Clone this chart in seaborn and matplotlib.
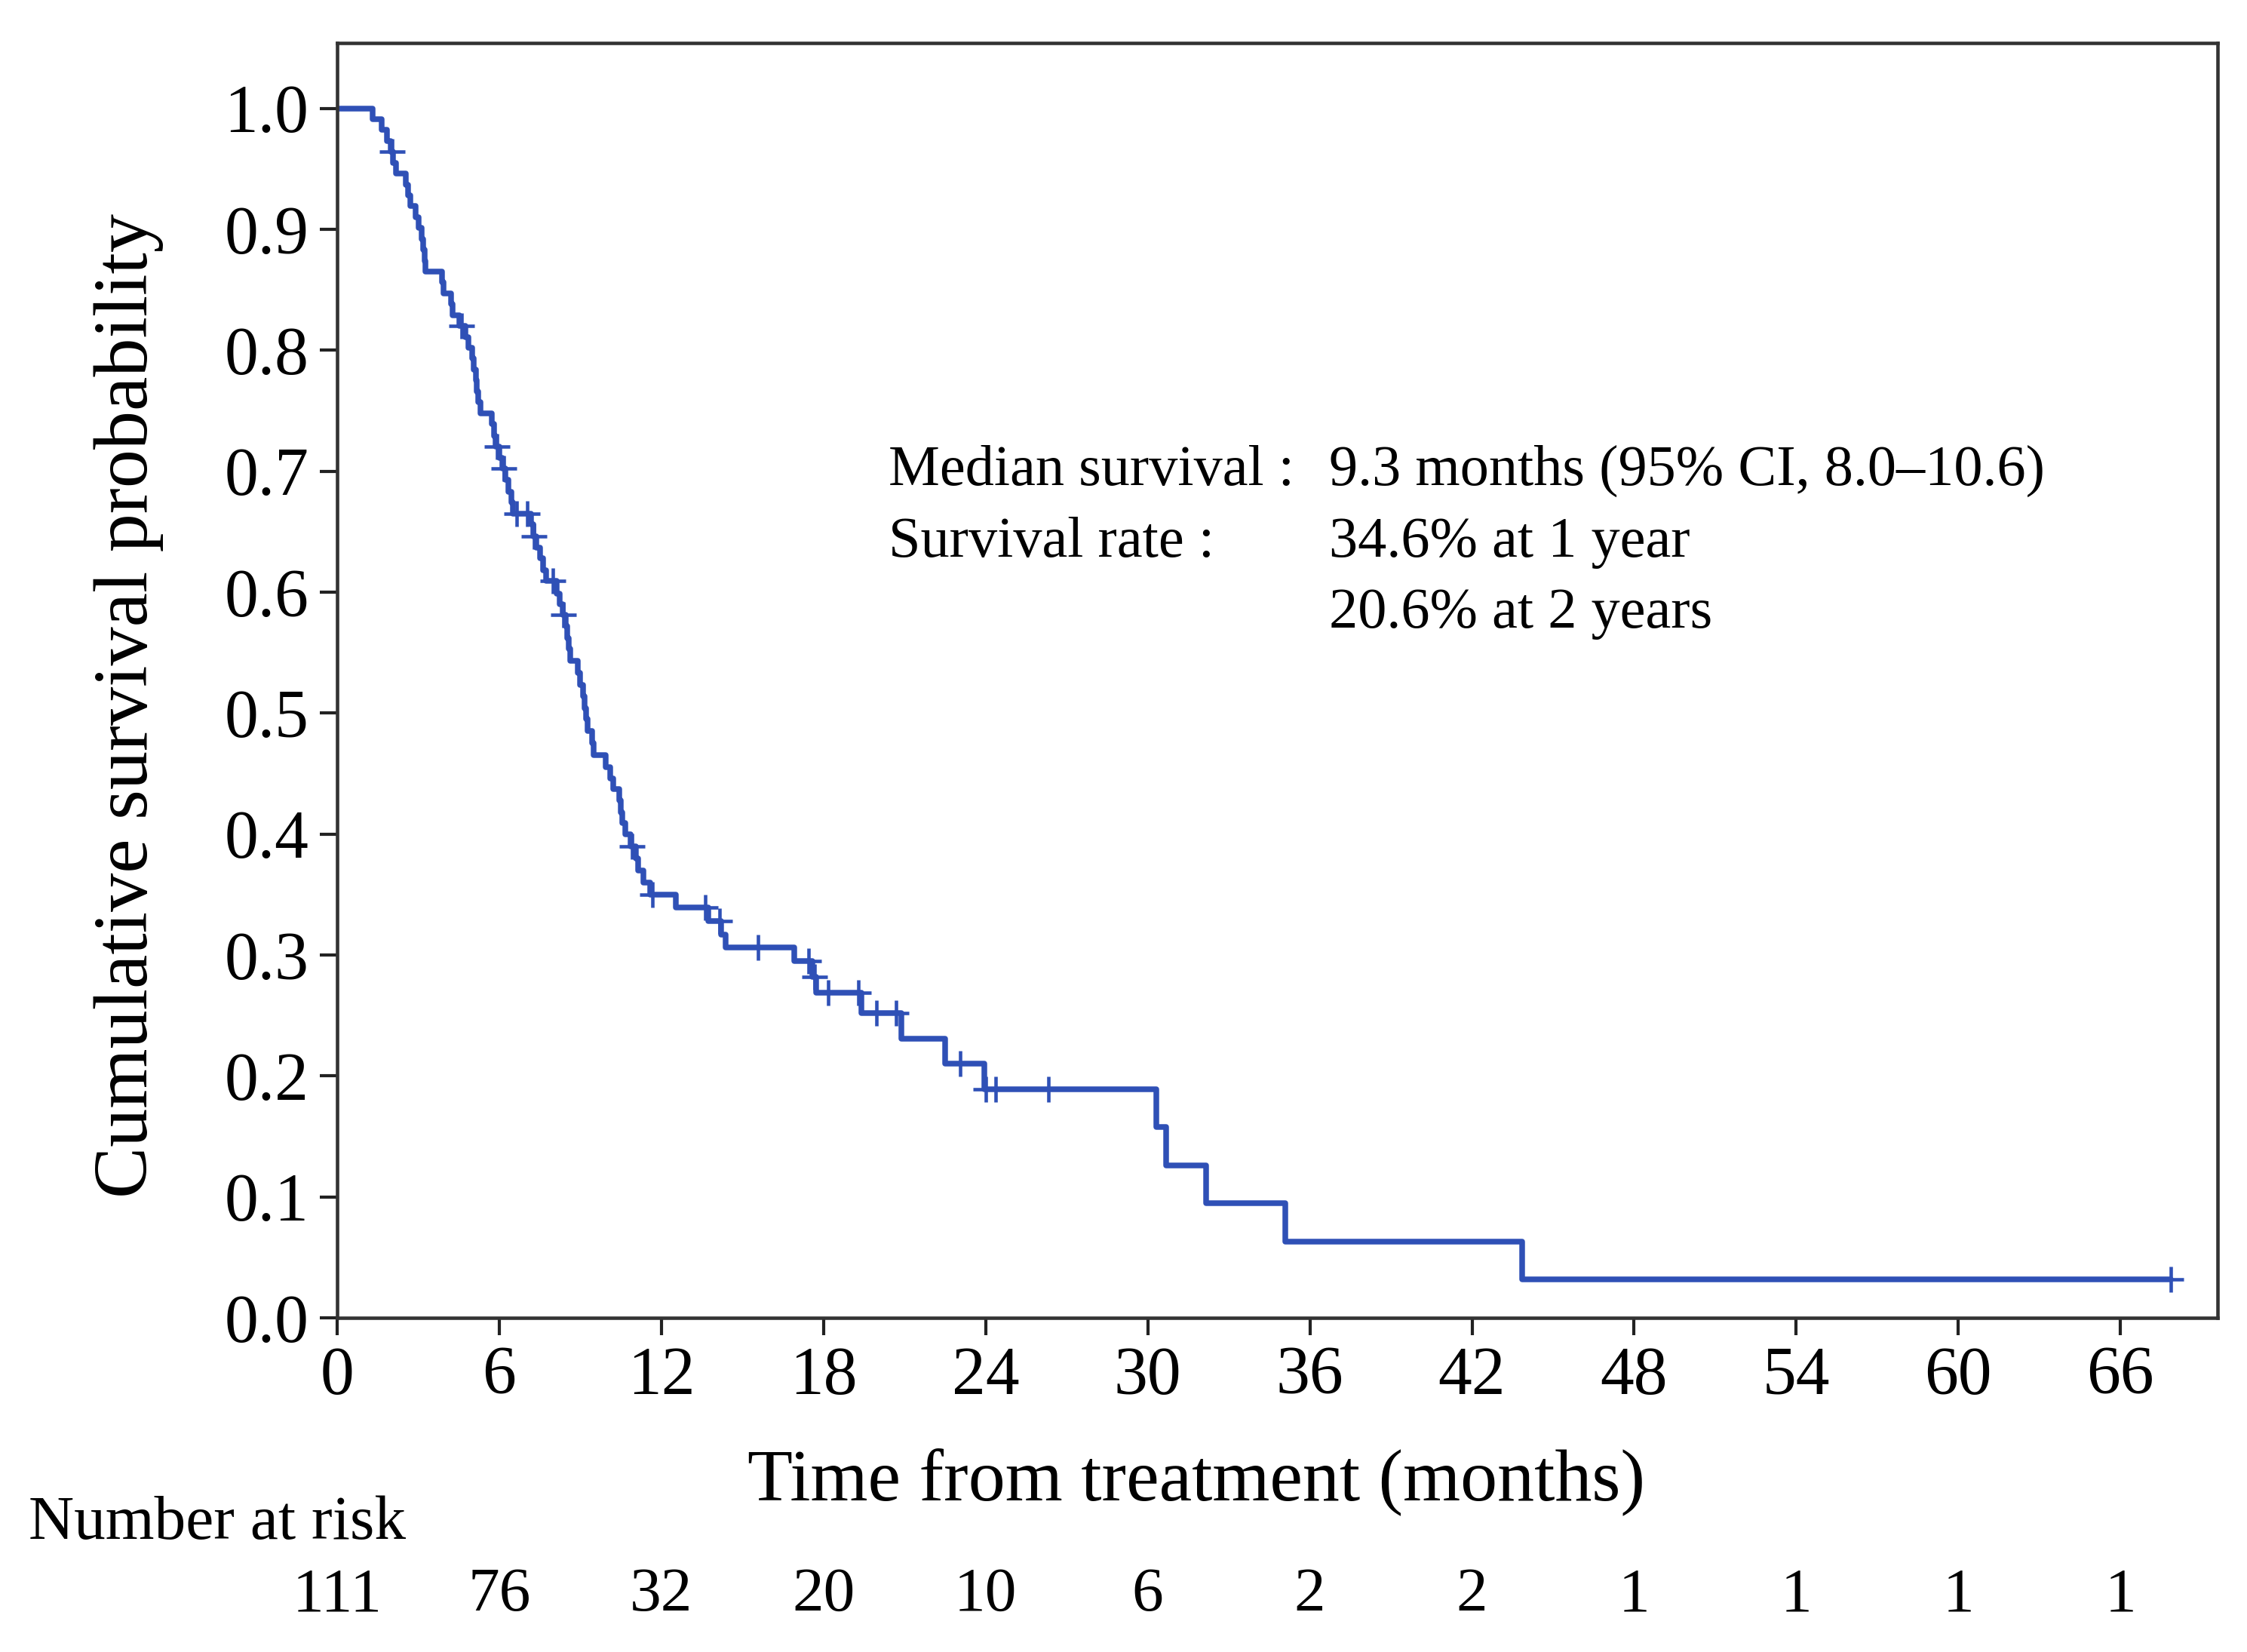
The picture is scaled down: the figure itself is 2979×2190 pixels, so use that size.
"""Kaplan-Meier style survival curve with number-at-risk row."""

import matplotlib
matplotlib.use("Agg")
import matplotlib.pyplot as plt
import matplotlib.transforms as mtransforms
import seaborn as sns

# step curve: time (months) and survival after each step
step_time = [
    0, 1.32, 1.66, 1.85, 1.98, 2.08, 2.17, 2.54, 2.62, 2.70, 2.91, 3.02, 3.14,
    3.20, 3.24, 3.28, 3.88, 3.95, 4.21, 4.28, 4.53, 4.76, 4.85, 4.99, 5.06,
    5.13, 5.18, 5.23, 5.30, 5.74, 5.80, 5.87, 6.00, 6.12, 6.24, 6.35, 6.45,
    6.52, 7.17, 7.25, 7.36, 7.50, 7.62, 7.73, 8.13, 8.25, 8.35, 8.45, 8.52,
    8.58, 8.64, 8.92, 8.98, 9.10, 9.16, 9.22, 9.28, 9.43, 9.50, 9.94, 10.10,
    10.21, 10.45, 10.49, 10.55, 10.68, 10.86, 11.05, 11.15, 11.33, 11.60,
    12.53, 13.73, 14.20, 14.38, 16.92, 17.60, 17.73, 19.40, 20.89, 22.50,
    23.95, 30.31, 30.68, 32.17, 35.10, 43.85, 67.87,
]
step_surv = [
    1.0, 0.991, 0.982, 0.973, 0.964, 0.955, 0.946, 0.937, 0.928, 0.919, 0.910,
    0.901, 0.892, 0.883, 0.874, 0.865, 0.856, 0.847, 0.838, 0.829, 0.820,
    0.811, 0.802, 0.793, 0.784, 0.775, 0.766, 0.757, 0.748, 0.739, 0.729,
    0.720, 0.711, 0.702, 0.693, 0.683, 0.674, 0.665, 0.656, 0.646, 0.637,
    0.628, 0.618, 0.609, 0.599, 0.590, 0.581, 0.572, 0.562, 0.553, 0.543,
    0.533, 0.523, 0.514, 0.504, 0.495, 0.485, 0.475, 0.465, 0.455, 0.446,
    0.437, 0.428, 0.418, 0.409, 0.400, 0.390, 0.380, 0.370, 0.360, 0.350,
    0.339, 0.328, 0.317, 0.306, 0.295, 0.282, 0.269, 0.252, 0.231, 0.210,
    0.189, 0.158, 0.126, 0.095, 0.063, 0.032, 0.032,
]

# censored observations
censor_time = [
    2.04, 4.62, 5.92, 6.17, 6.65, 7.05, 7.30, 8.00, 8.38, 10.92, 11.68,
    13.62, 14.15, 15.58, 17.46, 17.66, 18.17, 19.28, 19.96, 20.70, 23.06,
    24.02, 24.36, 26.34, 67.87,
]
censor_surv = [
    0.964, 0.820, 0.720, 0.702, 0.665, 0.665, 0.646, 0.609, 0.581, 0.390,
    0.350, 0.339, 0.328, 0.306, 0.295, 0.282, 0.269, 0.269, 0.252, 0.252,
    0.210, 0.189, 0.189, 0.189, 0.032,
]

risk_time = [0, 6, 12, 18, 24, 30, 36, 42, 48, 54, 60, 66]
risk_count = [111, 76, 32, 20, 10, 6, 2, 2, 1, 1, 1, 1]

y_ticks = [0.0, 0.1, 0.2, 0.3, 0.4, 0.5, 0.6, 0.7, 0.8, 0.9, 1.0]

line_color = "#2F50B6"

sns.set_theme(style="ticks")
plt.rcParams["font.family"] = ["Liberation Serif", "DejaVu Serif"]
plt.rcParams["axes.edgecolor"] = "#333333"
plt.rcParams["text.color"] = "black"
plt.rcParams["axes.labelcolor"] = "black"

fig = plt.figure(figsize=(9.93, 7.30), dpi=300)
ax = fig.add_axes([0.150, 0.2023, 0.837, 0.7717])

sns.lineplot(
    x=step_time, y=step_surv, ax=ax, color=line_color, linewidth=1.8,
    drawstyle="steps-post", estimator=None, sort=False,
)
sns.scatterplot(
    x=censor_time, y=censor_surv, ax=ax, marker="+", s=65,
    color=line_color, linewidth=1.1, zorder=3,
)

ax.set_xlim(0, 69.6)
ax.set_ylim(0, 1.054)
ax.set_xticks(risk_time)
ax.set_yticks(y_ticks)
ax.set_yticklabels([f"{v:.1f}" for v in y_ticks])
ax.tick_params(axis="both", labelsize=21.5, length=5.5, width=1.0,
               colors="#222222", labelcolor="black")
for side in ["top", "right", "bottom", "left"]:
    ax.spines[side].set_visible(True)
    ax.spines[side].set_linewidth(1.1)

ax.set_xlabel("Time from treatment (months)", fontsize=23.5)
ax.set_ylabel("Cumulative survival probability", fontsize=24.5)
ax.xaxis.set_label_coords(0.457, -0.102)
ax.yaxis.set_label_coords(-0.092, 0.48)

# summary text
txt_size = 18.3
ax.text(20.4, 0.700, "Median survival :", fontsize=txt_size, va="center")
ax.text(36.7, 0.700, "9.3 months (95% CI, 8.0\u201310.6)", fontsize=txt_size, va="center")
ax.text(20.4, 0.641, "Survival rate :", fontsize=txt_size, va="center")
ax.text(36.7, 0.641, "34.6% at 1 year", fontsize=txt_size, va="center")
ax.text(36.7, 0.582, "20.6% at 2 years", fontsize=txt_size, va="center")

# number at risk row
risk_size = 20
trans = mtransforms.blended_transform_factory(ax.transData, fig.transFigure)
fig.text(0.0128, 0.0776, "Number at risk", fontsize=risk_size, va="center", ha="left")
for t, n in zip(risk_time, risk_count):
    ax.text(t, 0.034, str(n), transform=trans, fontsize=risk_size,
            ha="center", va="center", clip_on=False)

fig.savefig("out.png", dpi=300, facecolor="white")
plt.close(fig)
